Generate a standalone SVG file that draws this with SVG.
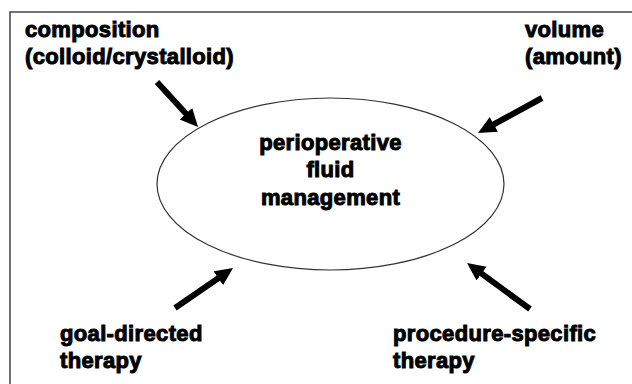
<svg xmlns="http://www.w3.org/2000/svg" width="632" height="384" viewBox="0 0 632 384">
<style>
  .lbl { font-family: "Liberation Sans", Arial, sans-serif; font-weight: bold; font-size: 22px; letter-spacing: 0.35px; fill: #000; stroke: #000; stroke-width: 1; }
  .mid { text-anchor: middle; }
  .arr { stroke: #000; stroke-width: 6; fill: none; marker-end: url(#head); }
</style>
<defs>
  <marker id="head" markerUnits="userSpaceOnUse" markerWidth="20" markerHeight="18" refX="8" refY="8.5" orient="auto">
    <path d="M0,0 L18,8.5 L0,17 z" fill="#000"/>
  </marker>
</defs>
<rect x="10" y="12" width="640" height="400" fill="#fff" stroke="#444" stroke-width="1.5"/>
<g id="center">
  <ellipse cx="330.5" cy="184" rx="173.5" ry="86" fill="#fff" stroke="#333" stroke-width="1.2"/>
  <text class="lbl mid" x="330.5" y="150">perioperative</text>
  <text class="lbl mid" x="330.5" y="177">fluid</text>
  <text class="lbl mid" x="330.5" y="205">management</text>
</g>
<g id="composition">
  <text class="lbl" x="25" y="37">composition</text>
  <text class="lbl" x="25" y="64">(colloid/crystalloid)</text>
</g>
<g id="volume">
  <text class="lbl" x="525" y="37">volume</text>
  <text class="lbl" x="525" y="64">(amount)</text>
</g>
<g id="goal">
  <text class="lbl" x="60" y="341">goal-directed</text>
  <text class="lbl" x="60" y="368">therapy</text>
</g>
<g id="procedure">
  <text class="lbl" x="393" y="341">procedure-specific</text>
  <text class="lbl" x="393" y="368">therapy</text>
</g>
<g id="connectors">
  <line class="arr" x1="157" y1="82" x2="191.3" y2="119.6"/>
  <line class="arr" x1="542" y1="98" x2="486.8" y2="128.2"/>
  <line class="arr" x1="175" y1="308" x2="224.8" y2="273.7"/>
  <line class="arr" x1="530" y1="309" x2="475.1" y2="268.9"/>
</g>
</svg>
